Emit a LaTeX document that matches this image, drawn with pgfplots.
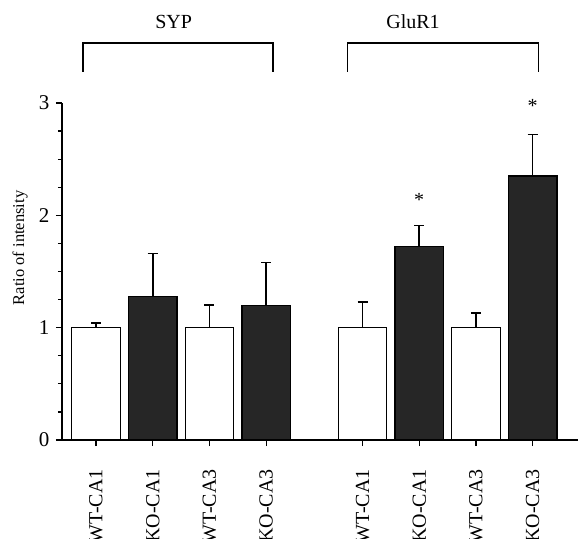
\documentclass[border=0pt]{standalone}
\usepackage{pgfplots}
\pgfplotsset{compat=1.18}
\usepackage{fontspec}
\setmainfont{Liberation Serif}
\begin{document}
\fontsize{19}{22}\selectfont
\begin{tikzpicture}
\begin{axis}[
  at={(62pt,98pt)}, anchor=south west,
  scale only axis, width=516pt, height=337pt,
  xmin=-0.6, xmax=8.5, ymin=0, ymax=3,
  axis lines*=left,
  axis line style={line width=1.2pt},
  every tick/.style={black, line width=1.2pt},
  tick align=outside,
  major tick length=6pt, minor tick length=4pt,
  /pgf/number format/assume math mode=true,
  ytick={0,1,2,3}, minor y tick num=3,
  xtick={0,1,2,3,4.7,5.7,6.7,7.7},
  xticklabels={WT-CA1,KO-CA1,WT-CA3,KO-CA3,WT-CA1,KO-CA1,WT-CA3,KO-CA3},
  xticklabel style={rotate=90, anchor=east, font=\fontsize{20}{22}\selectfont},
  yticklabel style={font=\fontsize{21}{22}\selectfont},
  xticklabel shift=17pt,
  ylabel={Ratio of intensity},
  every axis y label/.style={at={(axis description cs:-0.0814,0.57)}, rotate=90, anchor=center, font=\fontsize{16.5}{19}\selectfont},
  clip=false,
]
\addplot[ybar, bar width=0.855, bar shift=0pt, fill=white, draw=black, line width=1.3pt,
  error bars/.cd, y dir=plus, y explicit,
  error bar style={line width=1.6pt, black},
  error mark=-,
  error mark options={rotate=90, line width=1.8pt, mark size=5pt, black}]
  coordinates {(0,1.0) +- (0,0.04) (2,1.0) +- (0,0.20) (4.7,1.0) +- (0,0.23) (6.7,1.0) +- (0,0.13)};
\addplot[ybar, bar width=0.855, bar shift=0pt, fill=black!85, draw=black, line width=1.3pt,
  error bars/.cd, y dir=plus, y explicit,
  error bar style={line width=1.6pt, black},
  error mark=-,
  error mark options={rotate=90, line width=1.8pt, mark size=5pt, black}]
  coordinates {(1,1.28) +- (0,0.38) (3,1.20) +- (0,0.38) (5.7,1.72) +- (0,0.19) (7.7,2.35) +- (0,0.37)};
\draw[line width=1.2pt] (axis cs:-0.23,3.28) |- (axis cs:3.12,3.535) -- (axis cs:3.12,3.28);
\draw[line width=1.2pt] (axis cs:4.44,3.28) |- (axis cs:7.81,3.535) -- (axis cs:7.81,3.28);
\node[font=\fontsize{20}{22}\selectfont] at (axis cs:1.37,3.72) {SYP};
\node[font=\fontsize{20}{22}\selectfont] at (axis cs:5.59,3.72) {GluR1};
\node[font=\fontsize{20}{22}\selectfont] at (axis cs:5.7,2.14) {*};
\node[font=\fontsize{20}{22}\selectfont] at (axis cs:7.7,2.97) {*};
\end{axis}
\pgfresetboundingbox
\path[use as bounding box] (0,0) rectangle (580pt,538pt);
\end{tikzpicture}
\end{document}
